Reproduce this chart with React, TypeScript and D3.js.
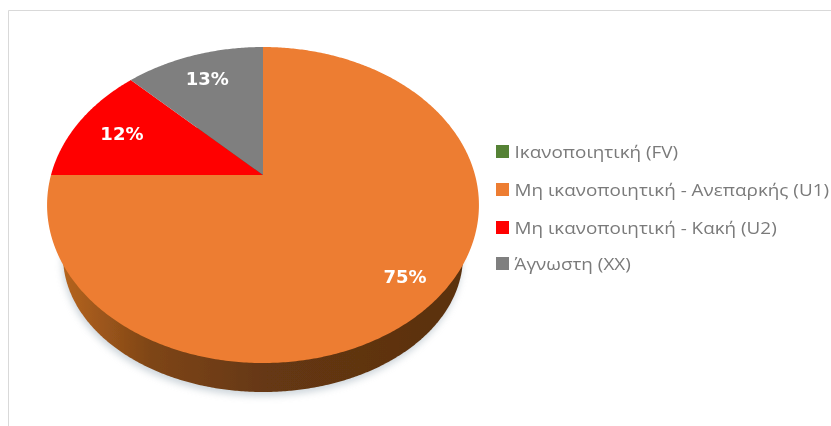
import React from "react";
import * as d3 from "d3";

const categories = ["Ικανοποιητική (FV)", "Μη ικανοποιητική - Ανεπαρκής (U1)", "Μη ικανοποιητική - Κακή (U2)", "Άγνωστη (XX)"];
const values = [0, 75, 12.49, 12.51];
const colors = ["#548235", "#ED7D31", "#FF0000", "#7F7F7F"];
const FONT = "'Open Sans', 'Noto Sans', sans-serif";

const apex = { x: 263, y: 175 };
const k = -0.19, rxP = 212, ryP = 152.3;
const project = (theta: number, r = 1): [number, number] => {
  const u = Math.sin(theta) * r, v = -Math.cos(theta) * r;
  const w = 1 + k * v;
  return [apex.x + (rxP * u) / w, apex.y + (ryP * v) / w];
};
const pie = d3.pie<number>().sort(null);
const arcs = pie(values);
const line = d3.line();

const slicePath = (a0: number, a1: number) => {
  const n = Math.max(2, Math.ceil((a1 - a0) / 0.01));
  const pts: [number, number][] = [[apex.x, apex.y]];
  for (const t of d3.range(n + 1)) pts.push(project(a0 + ((a1 - a0) * t) / n));
  return line(pts) + "Z";
};

// lower rim of the pie's side wall
const wall = { cx: 263, cy: 256, rx: 200, ry: 136 };
const wallPath = line(
  d3.range(0, 629).map((t): [number, number] => [
    wall.cx + wall.rx * Math.cos(t / 100),
    wall.cy + wall.ry * Math.sin(t / 100),
  ])
) + "Z";

const legendY = [151, 189, 227, 263];
const labelR = [0, 0.84, 0.76, 0.78];

export default function App() {
  return (
    <svg width={831} height={426} style={{ position: "fixed", left: 0, top: 0, background: "#fff" }}>
      <defs>
        <linearGradient id="wallFill" x1="0" x2="1" y1="0" y2="0">
          <stop offset="0" stopColor="#B5641F" />
          <stop offset="0.22" stopColor="#7E4516" />
          <stop offset="0.5" stopColor="#663812" />
          <stop offset="1" stopColor="#5A3010" />
        </linearGradient>
        <filter id="soft" x="-10%" y="-10%" width="120%" height="120%"><feGaussianBlur stdDeviation="0.55" /></filter>
        <filter id="shadow" x="-10%" y="-10%" width="120%" height="120%"><feGaussianBlur stdDeviation="3.5" /></filter>
      </defs>
      <path d="M8.5 426V10.5H831" fill="none" stroke="#D9D9D9" strokeWidth={1} />
      <path d={wallPath} transform="translate(-1,4)" fill="#B9C4CC" opacity={0.7} filter="url(#shadow)" />
      <g filter="url(#soft)">
        <path d={wallPath} fill="url(#wallFill)" />
        {arcs.map((a, i) => a.value > 0 && (
          <path key={i} d={slicePath(a.startAngle, a.endAngle)} fill={colors[i]} />
        ))}
        {arcs.map((a, i) => {
          if (a.value === 0) return null;
          const [x, y] = project((a.startAngle + a.endAngle) / 2, labelR[i]);
          return (
            <text key={i} x={x} y={y} textAnchor="middle" dominantBaseline="central"
              fontFamily="'DejaVu Sans', sans-serif" fontWeight={700} fontSize={18} fill="#FFFFFF">
              {Math.round(a.value)}%
            </text>
          );
        })}
      </g>
      <g filter="url(#soft)">
        {categories.map((c, i) => (
          <g key={c}>
            <rect x={496} y={legendY[i] - 6} width={13} height={13} fill={colors[i]} />
            <text transform={`translate(514.5,${legendY[i] + 0.5}) scale(1.18,1)`} dominantBaseline="central"
              fontFamily={FONT} fontSize={16} fill="#7A7A7A">{c}</text>
          </g>
        ))}
      </g>
    </svg>
  );
}
